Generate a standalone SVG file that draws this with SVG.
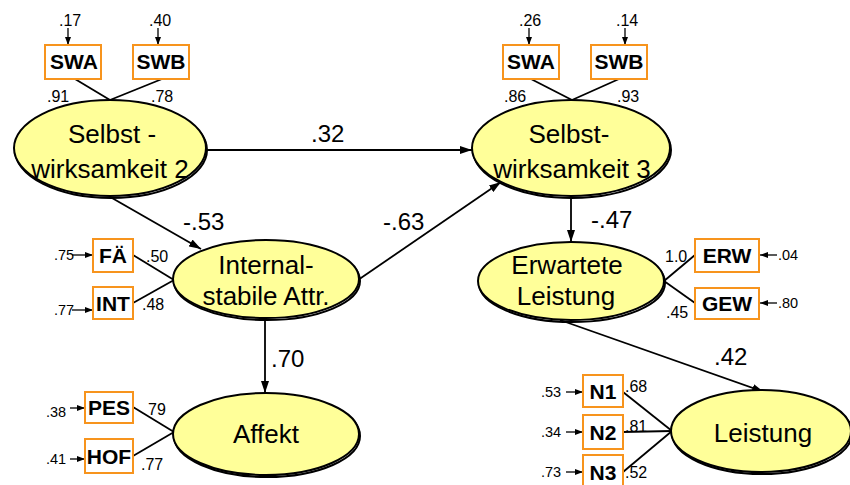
<svg xmlns="http://www.w3.org/2000/svg" width="850" height="485" viewBox="0 0 850 485">
  <style>
    .lat { fill: #FFFF99; stroke: #000; stroke-width: 2; }
    .sh { fill: none; stroke: #000; stroke-width: 2; }
    .box { fill: #fff; stroke: #F7941D; stroke-width: 2; }
    .ln { stroke: #000; stroke-width: 1.8; fill: none; }
    .sm { stroke: #000; stroke-width: 1.3; fill: none; }
    text { font-family: "Liberation Sans", Arial, sans-serif; fill: #000; }
    .lt { font-size: 26px; text-anchor: middle; }
    .bt { font-size: 21px; font-weight: bold; text-anchor: middle; }
    .big { font-size: 24px; }
    .s { font-size: 16px; }
    .xs { font-size: 14.5px; }
  </style>
  <defs>
    <marker id="ah" viewBox="0 0 12 8" refX="12" refY="4" markerWidth="12" markerHeight="8" markerUnits="userSpaceOnUse" orient="auto">
      <path d="M0,0 L12,4 L0,8 z" fill="#000"/>
    </marker>
    <marker id="ahs" viewBox="0 0 8 6" refX="8" refY="3" markerWidth="8" markerHeight="6" markerUnits="userSpaceOnUse" orient="auto">
      <path d="M0,0 L8,3 L0,6 z" fill="#000"/>
    </marker>
  </defs>

  <!-- connectors -->
  <g id="connectors">
    <!-- structural paths -->
    <line class="ln" x1="207" y1="150" x2="472" y2="150" marker-end="url(#ah)"/>
    <line class="ln" x1="112" y1="198" x2="201" y2="249" marker-end="url(#ah)"/>
    <line class="ln" x1="358" y1="280" x2="501" y2="182" marker-end="url(#ah)"/>
    <line class="ln" x1="265" y1="319" x2="265" y2="393" marker-end="url(#ah)"/>
    <line class="ln" x1="571" y1="198" x2="571" y2="242" marker-end="url(#ah)"/>
    <line class="ln" x1="560" y1="320" x2="764" y2="392" marker-end="url(#ah)"/>
    <!-- loadings -->
    <line class="ln" x1="75" y1="79" x2="110" y2="100"/>
    <line class="ln" x1="162" y1="79" x2="110" y2="100"/>
    <line class="ln" x1="531" y1="79" x2="572" y2="100"/>
    <line class="ln" x1="619" y1="79" x2="572" y2="100"/>
    <line class="ln" x1="133" y1="255" x2="174" y2="280"/>
    <line class="ln" x1="133" y1="303" x2="174" y2="280"/>
    <line class="ln" x1="133" y1="407" x2="174" y2="432"/>
    <line class="ln" x1="133" y1="456" x2="174" y2="432"/>
    <line class="ln" x1="695" y1="255" x2="664" y2="281"/>
    <line class="ln" x1="695" y1="303" x2="664" y2="281"/>
    <line class="ln" x1="623" y1="392" x2="672" y2="431"/>
    <line class="ln" x1="623" y1="432" x2="672" y2="431"/>
    <line class="ln" x1="623" y1="472" x2="672" y2="431"/>
    <!-- residuals -->
    <line class="sm" x1="68" y1="28" x2="68" y2="45" marker-end="url(#ahs)"/>
    <line class="sm" x1="158" y1="28" x2="158" y2="45" marker-end="url(#ahs)"/>
    <line class="sm" x1="529" y1="28" x2="529" y2="45" marker-end="url(#ahs)"/>
    <line class="sm" x1="625" y1="28" x2="625" y2="45" marker-end="url(#ahs)"/>
    <line class="sm" x1="72" y1="255" x2="93" y2="255" marker-end="url(#ahs)"/>
    <line class="sm" x1="72" y1="310" x2="93" y2="310" marker-end="url(#ahs)"/>
    <line class="sm" x1="70" y1="408" x2="85" y2="408" marker-end="url(#ahs)"/>
    <line class="sm" x1="70" y1="459" x2="85" y2="459" marker-end="url(#ahs)"/>
    <line class="sm" x1="777" y1="255" x2="760" y2="255" marker-end="url(#ahs)"/>
    <line class="sm" x1="777" y1="303" x2="760" y2="303" marker-end="url(#ahs)"/>
    <line class="sm" x1="566" y1="392" x2="583" y2="392" marker-end="url(#ahs)"/>
    <line class="sm" x1="566" y1="432" x2="583" y2="432" marker-end="url(#ahs)"/>
    <line class="sm" x1="566" y1="472" x2="583" y2="472" marker-end="url(#ahs)"/>
  </g>

  <!-- path coefficients -->
  <g id="coefficients">
    <text class="big" x="311" y="142">.32</text>
    <text class="big" x="183" y="230">-.53</text>
    <text class="big" x="383" y="230">-.63</text>
    <text class="big" x="271" y="367">.70</text>
    <text class="big" x="591" y="228">-.47</text>
    <text class="big" x="714" y="365">.42</text>
  </g>

  <!-- Selbstwirksamkeit 2 -->
  <g id="sw2">
    <ellipse class="sh" cx="111" cy="150" rx="96" ry="48"/>
    <ellipse class="lat" cx="110" cy="148" rx="96" ry="48"/>
    <text class="lt" x="112" y="143">Selbst -</text>
    <text class="lt" x="110" y="178">wirksamkeit 2</text>
  </g>
  <g id="sw2-swa">
    <rect class="box" x="45" y="45" width="56" height="34"/>
    <text class="bt" x="74" y="69">SWA</text>
    <text class="s" x="59" y="26">.17</text>
    <text class="s" x="47" y="102">.91</text>
  </g>
  <g id="sw2-swb">
    <rect class="box" x="133" y="45" width="56" height="34"/>
    <text class="bt" x="161" y="69">SWB</text>
    <text class="s" x="149" y="26">.40</text>
    <text class="s" x="151" y="102">.78</text>
  </g>

  <!-- Selbstwirksamkeit 3 -->
  <g id="sw3">
    <ellipse class="sh" cx="572" cy="150" rx="99" ry="48"/>
    <ellipse class="lat" cx="571" cy="148" rx="99" ry="48"/>
    <text class="lt" x="569" y="143">Selbst-</text>
    <text class="lt" x="572" y="178">wirksamkeit 3</text>
  </g>
  <g id="sw3-swa">
    <rect class="box" x="503" y="45" width="56" height="34"/>
    <text class="bt" x="531" y="69">SWA</text>
    <text class="s" x="519" y="26">.26</text>
    <text class="s" x="504" y="102">.86</text>
  </g>
  <g id="sw3-swb">
    <rect class="box" x="591" y="45" width="56" height="34"/>
    <text class="bt" x="619" y="69">SWB</text>
    <text class="s" x="616" y="26">.14</text>
    <text class="s" x="617" y="102">.93</text>
  </g>

  <!-- Internal-stabile Attribution -->
  <g id="isa">
    <ellipse class="sh" cx="267" cy="281" rx="93" ry="39"/>
    <ellipse class="lat" cx="266" cy="279" rx="93" ry="39"/>
    <text class="lt" x="266" y="274">Internal-</text>
    <text class="lt" x="266" y="305">stabile Attr.</text>
  </g>
  <g id="isa-fa">
    <rect class="box" x="93" y="239" width="40" height="33"/>
    <text class="bt" x="113" y="263">FÄ</text>
    <text class="xs" x="54" y="260">.75</text>
    <text class="s" x="146" y="262">.50</text>
  </g>
  <g id="isa-int">
    <rect class="box" x="93" y="287" width="40" height="32"/>
    <text class="bt" x="113" y="311">INT</text>
    <text class="xs" x="54" y="315">.77</text>
    <text class="s" x="142" y="310">.48</text>
  </g>

  <!-- Affekt -->
  <g id="affekt">
    <ellipse class="sh" cx="267" cy="436" rx="93" ry="41"/>
    <ellipse class="lat" cx="266" cy="434" rx="93" ry="41"/>
    <text class="lt" x="266" y="443">Affekt</text>
  </g>
  <g id="affekt-pes">
    <rect class="box" x="85" y="392" width="48" height="31"/>
    <text class="bt" x="109" y="415">PES</text>
    <text class="xs" x="46" y="417">.38</text>
    <text class="s" x="148" y="415">79</text>
  </g>
  <g id="affekt-hof">
    <rect class="box" x="85" y="439" width="48" height="34"/>
    <text class="bt" x="109" y="464">HOF</text>
    <text class="xs" x="46" y="464">.41</text>
    <text class="s" x="141" y="470">.77</text>
  </g>

  <!-- Erwartete Leistung -->
  <g id="erwartet">
    <ellipse class="sh" cx="572" cy="283" rx="93" ry="39"/>
    <ellipse class="lat" cx="571" cy="281" rx="93" ry="39"/>
    <text class="lt" x="567" y="274">Erwartete</text>
    <text class="lt" x="566" y="305">Leistung</text>
  </g>
  <g id="erwartet-erw">
    <rect class="box" x="695" y="239" width="64" height="33"/>
    <text class="bt" x="727" y="263">ERW</text>
    <text class="xs" x="778" y="260">.04</text>
    <text class="s" x="665" y="262">1.0</text>
  </g>
  <g id="erwartet-gew">
    <rect class="box" x="695" y="288" width="64" height="31"/>
    <text class="bt" x="727" y="311">GEW</text>
    <text class="xs" x="778" y="308">.80</text>
    <text class="s" x="666" y="318">.45</text>
  </g>

  <!-- Leistung -->
  <g id="leistung">
    <ellipse class="sh" cx="762" cy="433" rx="90" ry="41"/>
    <ellipse class="lat" cx="761" cy="431" rx="90" ry="41"/>
    <text class="lt" x="763" y="442">Leistung</text>
  </g>
  <g id="leistung-n1">
    <rect class="box" x="583" y="375" width="40" height="32"/>
    <text class="bt" x="603" y="399">N1</text>
    <text class="xs" x="541" y="397">.53</text>
    <text class="s" x="625" y="392">.68</text>
  </g>
  <g id="leistung-n2">
    <rect class="box" x="583" y="415" width="40" height="34"/>
    <text class="bt" x="603" y="440">N2</text>
    <text class="xs" x="541" y="437">.34</text>
    <text class="s" x="625" y="432">.81</text>
  </g>
  <g id="leistung-n3">
    <rect class="box" x="583" y="455" width="40" height="33"/>
    <text class="bt" x="603" y="480">N3</text>
    <text class="xs" x="541" y="477">.73</text>
    <text class="s" x="625" y="478">.52</text>
  </g>
</svg>
